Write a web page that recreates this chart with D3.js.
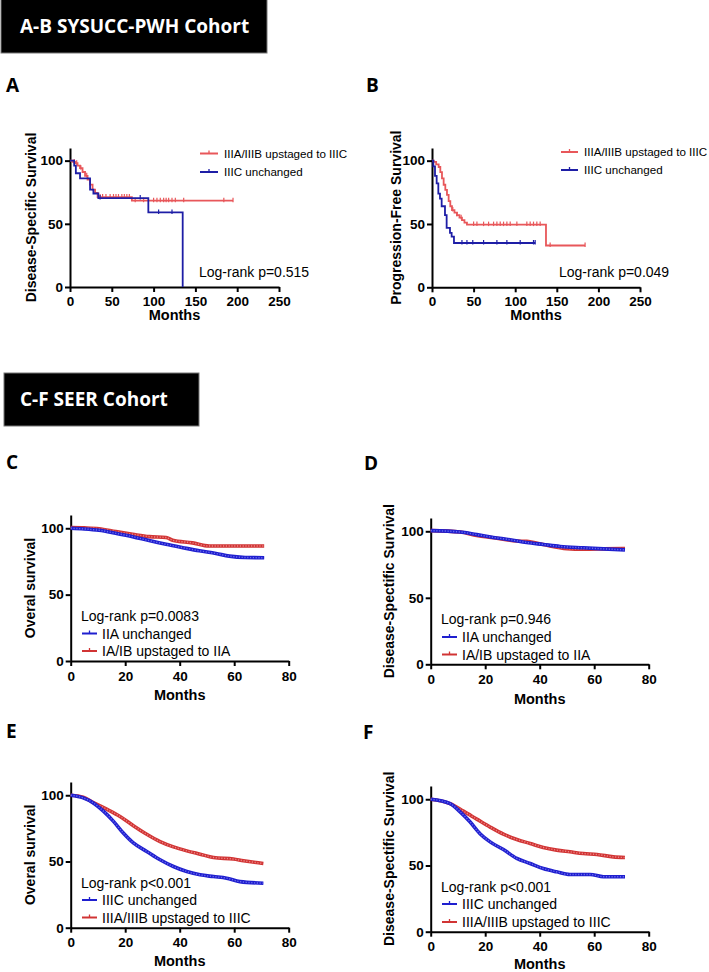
<!DOCTYPE html>
<html><head><meta charset="utf-8">
<script src="https://cdn.jsdelivr.net/npm/d3@7"></script>
<style>body{margin:0;background:#fff;} text{font-family:"Liberation Sans",Arial,sans-serif;}</style>
</head><body>
<script>
// ---------------- DATA ----------------
// Panel A (SYSUCC-PWH, Disease-Specific Survival) : [month, survival %]
const A_red = [[0,100],[3,99],[6,98],[9,96],[12,94],[15,91],[18,88],[21,85],[24,81],[27,77],[30,74.5],[33,71.2],[74,68.3]];
const A_red_end = 195;
const A_red_censor = [5,8,13,20,36,39,43,48,52,55,58,62,65,68,71,78,88,100,104,108,112,115,118,122,126,136,184,195];
const A_blue = [[0,100],[5,96],[7,90],[12,86],[24,77],[28,74],[33.9,70.4],[93.7,59],[134.8,0]];
const A_blue_end = 134.8;
const A_blue_censor = [36,84,106,122];
// Panel B (Progression-Free Survival)
const B_red = [[0,100],[2,99],[5,97],[8,95],[10,91],[12,86],[14,81],[16,77],[18,73],[20,68],[22,64],[24,61],[27,59],[30,57],[33,55],[36,53],[39,51],[42,49.5],[137,33]];
const B_red_end = 184;
const B_red_censor = [25,30,35,50,54,62,68,74,78,82,86,90,94,102,114,118,122,126,130,142,184];
const B_blue = [[0,100],[1.6,95.5],[3.6,88],[5.6,82],[7.6,74],[9.6,70],[11.6,64],[15.6,57],[17.6,47],[21.6,43],[23.6,40],[26.4,35]];
const B_blue_end = 124;
const B_blue_censor = [36,42,49,62,78,90,106,122,124];
// Panel C (SEER, Overall survival)
const C_red = [[0,100.5],[5,100.3],[10.4,99.7],[16.6,97.5],[22.7,95.5],[28.8,93.7],[35,93],[37.4,91],[44.7,89],[50.8,86.6],[71,86.6]];
const C_blue = [[0,100],[5,99.5],[10.4,98.5],[16.6,96.2],[22.7,93.7],[28.8,90.7],[35,87.9],[41.1,85.4],[47.2,83],[53.3,81],[58.2,79],[64,78],[71,77.8]];
// Panel D (SEER, Disease-specific survival)
const D_red = [[0,100.5],[10.8,99.5],[16.9,96.9],[23,95.2],[31.6,92.7],[35.2,92.4],[41.3,90],[50,87],[56,86.6],[63.4,86.8],[71.3,87.1]];
const D_blue = [[0,100.5],[10.8,99.5],[16.9,97.5],[23,95.4],[29,93.7],[35.2,91.6],[41.3,90.1],[47.5,88.6],[56,87.6],[63.4,86.8],[71.3,86]];
// Panel E (SEER IIIC, Overall survival)
const E_red = [[0,100],[4.6,98.5],[8.3,94.5],[13.2,89.5],[18.1,84],[23,77],[27.9,70.5],[32.8,65],[37.7,61],[42.6,58],[47.5,55.5],[52.4,53],[59.7,51.8],[63.4,50.5],[70.7,48.5]];
const E_blue = [[0,100],[4.6,98],[8.3,94.2],[12,88],[15.7,80.3],[19.3,71.5],[23,64],[27.9,57.6],[32.8,51.3],[37.7,46.2],[42.6,42.4],[47.5,39.9],[52.4,38.6],[57.2,37.4],[62.1,34.8],[70.7,33.6]];
// Panel F (SEER IIIC, Disease-specific survival)
const F_red = [[0,100],[7.1,96.7],[12,91],[16.9,85],[21.8,79],[26.7,73.6],[31.6,69.6],[36.5,66.6],[41.3,63.6],[46.2,61.6],[51.1,60.3],[56,59],[61,58.3],[67,56.5],[71.3,56]];
const F_blue = [[0,100],[7.1,96.7],[10.8,90.5],[14.4,83],[18.1,74],[21.8,67.8],[26.7,62],[31.6,55.3],[36.5,51.5],[41.3,47.7],[46.2,45.2],[51.1,43.2],[58.5,43.2],[63.4,41.5],[71.3,41.5]];

const topXTicks = [0,50,100,150,200,250];
const seerXTicks = [0,20,40,60,80];
const yTicks = [0,50,100];

// ---------------- DRAW ----------------
const svg = d3.select("body").append("svg").attr("width",709).attr("height",972);

const RED_TOP="#e8575a", BLUE_TOP="#1e1ea6";
const RED_SEER="#d13434", BLUE_SEER="#1f1fcf";

function header(x,y,w,h,tx,ty,label){
  svg.append("rect").attr("x",x).attr("y",y).attr("width",w).attr("height",h).attr("fill","#000").attr("stroke","#777").attr("stroke-width",1);
  svg.append("text").attr("x",tx).attr("y",ty).attr("fill","#fff")
    .style("font-family","'Open Sans',sans-serif").style("font-weight",700).style("font-size","19px").text(label);
}
header(1,-2,266,55,20,33,"A-B  SYSUCC-PWH Cohort");
header(4,373,195,53,20,406,"C-F  SEER Cohort");

function letter(x,y,t){
  svg.append("text").attr("x",x).attr("y",y).style("font-family","'Open Sans',sans-serif")
   .style("font-weight",700).style("font-size","19px").text(t);
}

function drawPanel(p){
  const g = svg.append("g");
  const x = d3.scaleLinear().domain(p.xd).range([p.x0,p.x1]);
  const y = d3.scaleLinear().domain([0,110]).range([p.y0,p.yt]);
  const ya = g.append("g").attr("transform",`translate(${p.x0},0)`)
    .call(d3.axisLeft(y).tickValues(yTicks).tickSize(5).tickPadding(2).tickSizeOuter(0));
  const xa = g.append("g").attr("transform",`translate(0,${p.y0})`)
    .call(d3.axisBottom(x).tickValues(p.xt).tickSize(5).tickPadding(p.xpad).tickSizeOuter(0));
  [ya,xa].forEach(a=>{
    a.select(".domain").attr("stroke","#000").attr("stroke-width",2);
    a.selectAll(".tick line").attr("stroke","#000").attr("stroke-width",2);
    a.selectAll(".tick text").attr("fill","#000").style("font-family","'Liberation Sans',Arial,sans-serif")
      .style("font-weight",700).style("font-size","13.5px");
  });
  g.append("text").attr("x",(p.x0+p.x1)/2).attr("y",p.monthsY).attr("text-anchor","middle")
   .style("font-weight",700).style("font-size","14.5px").text("Months");
  g.append("text").attr("transform",`translate(${p.ytx},${(p.y0+p.yt)/2}) rotate(-90)`)
   .attr("text-anchor","middle").attr("dy","0.35em").style("font-weight",700).style("font-size","14px").text(p.ytitle);

  p.series.forEach(s=>{
    if(s.step){
      const pts = s.data.slice();
      const last = pts[pts.length-1];
      if(s.end>last[0]) pts.push([s.end,last[1]]);
      g.append("path").attr("d",d3.line().x(d=>x(d[0])).y(d=>y(d[1])).curve(d3.curveStepAfter)(pts))
        .attr("fill","none").attr("stroke",s.color).attr("stroke-width",1.8);
      const valAt = m=>{let v=s.data[0][1]; s.data.forEach(d=>{if(d[0]<=m) v=d[1];}); return v;};
      g.selectAll(null).data(s.censor).enter().append("line")
        .attr("x1",d=>x(d)).attr("x2",d=>x(d)).attr("y1",d=>y(valAt(d))-3).attr("y2",d=>y(valAt(d))+1.5)
        .attr("stroke",s.color).attr("stroke-width",1.2);
    } else {
      const ln = d3.line().x(d=>x(d[0])).y(d=>y(d[1])).curve(d3.curveMonotoneX);
      g.append("path").attr("d",ln(s.data)).attr("fill","none").attr("stroke",s.color).attr("stroke-width",3.6);
      g.append("path").attr("d",ln(s.data)).attr("fill","none").attr("stroke",s.light)
        .attr("stroke-width",1.4).attr("stroke-dasharray","1.2,1.6").attr("opacity",0.8);
    }
  });
  p.legend.forEach(l=>{
    const cy = l.cy;
    g.append("line").attr("x1",p.lx0).attr("x2",p.lx1).attr("y1",cy).attr("y2",cy).attr("stroke",l.color).attr("stroke-width",2);
    g.append("line").attr("x1",(p.lx0+p.lx1)/2).attr("x2",(p.lx0+p.lx1)/2).attr("y1",cy-3).attr("y2",cy).attr("stroke",l.color).attr("stroke-width",1.3);
    g.append("text").attr("x",p.ltx).attr("y",cy).attr("dy","0.36em").style("font-size",p.lfs+"px").text(l.text);
  });
  g.append("text").attr("x",p.lrx).attr("y",p.lry).style("font-size","14px").text(p.lr);
}

letter(6,92,"A"); letter(366,92,"B");
letter(6,469,"C"); letter(364,470,"D");
letter(6,738,"E"); letter(363,739,"F");

drawPanel({x0:70,x1:279,xd:[0,250],xt:topXTicks,y0:287,yt:148,xpad:4,monthsY:320,ytx:31,ytitle:"Disease-Specific Survival",
  series:[{step:true,data:A_red,end:A_red_end,censor:A_red_censor,color:RED_TOP},
          {step:true,data:A_blue,end:A_blue_end,censor:A_blue_censor,color:BLUE_TOP}],
  legend:[{cy:153.5,color:RED_TOP,text:"IIIA/IIIB upstaged to IIIC"},{cy:172,color:BLUE_TOP,text:"IIIC unchanged"}],
  lx0:200,lx1:218,ltx:224,lfs:11.6,lr:"Log-rank p=0.515",lrx:199,lry:277});

drawPanel({x0:432,x1:640,xd:[0,250],xt:topXTicks,y0:287.3,yt:148,xpad:4,monthsY:320,ytx:396,ytitle:"Progression-Free Survival",
  series:[{step:true,data:B_red,end:B_red_end,censor:B_red_censor,color:RED_TOP},
          {step:true,data:B_blue,end:B_blue_end,censor:B_blue_censor,color:BLUE_TOP}],
  legend:[{cy:152,color:RED_TOP,text:"IIIA/IIIB upstaged to IIIC"},{cy:170,color:BLUE_TOP,text:"IIIC unchanged"}],
  lx0:561,lx1:578,ltx:584,lfs:11.6,lr:"Log-rank p=0.049",lrx:559,lry:277});

drawPanel({x0:70.7,x1:288.7,xd:[0,80],xt:seerXTicks,y0:661,yt:515,xpad:5,monthsY:700,ytx:30,ytitle:"Overal survival",
  series:[{data:C_red,color:RED_SEER,light:"#f39a9a"},{data:C_blue,color:BLUE_SEER,light:"#8080f5"}],
  legend:[{cy:633.5,color:BLUE_SEER,text:"IIA unchanged"},{cy:651,color:RED_SEER,text:"IA/IB upstaged to IIA"}],
  lx0:82,lx1:97,ltx:102,lfs:14,lr:"Log-rank p=0.0083",lrx:81,lry:621});

drawPanel({x0:430.7,x1:648.7,xd:[0,80],xt:seerXTicks,y0:664.3,yt:518,xpad:5,monthsY:704,ytx:389,ytitle:"Disease-Spectific Survival",
  series:[{data:D_red,color:RED_SEER,light:"#f39a9a"},{data:D_blue,color:BLUE_SEER,light:"#8080f5"}],
  legend:[{cy:637,color:BLUE_SEER,text:"IIA unchanged"},{cy:654.5,color:RED_SEER,text:"IA/IB upstaged to IIA"}],
  lx0:442,lx1:457,ltx:462,lfs:14,lr:"Log-rank p=0.946",lrx:441,lry:624});

drawPanel({x0:70.7,x1:288.7,xd:[0,80],xt:seerXTicks,y0:927.7,yt:782,xpad:5,monthsY:966,ytx:30,ytitle:"Overal survival",
  series:[{data:E_red,color:RED_SEER,light:"#f39a9a"},{data:E_blue,color:BLUE_SEER,light:"#8080f5"}],
  legend:[{cy:900,color:BLUE_SEER,text:"IIIC unchanged"},{cy:917.5,color:RED_SEER,text:"IIIA/IIIB upstaged to IIIC"}],
  lx0:82,lx1:97,ltx:102,lfs:14,lr:"Log-rank p<0.001",lrx:81,lry:888});

drawPanel({x0:430.7,x1:648.7,xd:[0,80],xt:seerXTicks,y0:931.7,yt:786,xpad:5,monthsY:969,ytx:389,ytitle:"Disease-Spectific Survival",
  series:[{data:F_red,color:RED_SEER,light:"#f39a9a"},{data:F_blue,color:BLUE_SEER,light:"#8080f5"}],
  legend:[{cy:904,color:BLUE_SEER,text:"IIIC unchanged"},{cy:922,color:RED_SEER,text:"IIIA/IIIB upstaged to IIIC"}],
  lx0:442,lx1:457,ltx:462,lfs:14,lr:"Log-rank p<0.001",lrx:441,lry:892});
</script>
</body></html>
